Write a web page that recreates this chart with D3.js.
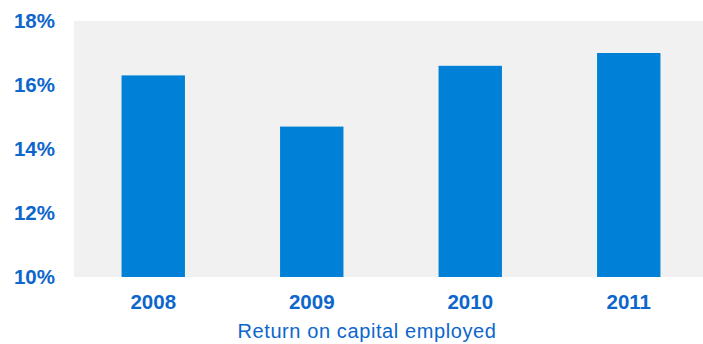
<!DOCTYPE html>
<html>
<head>
<meta charset="utf-8">
<script src="https://cdn.jsdelivr.net/npm/d3@7"></script>
<style>
  body { margin: 0; background: #fff; }
  text { font-family: "Liberation Sans", Arial, sans-serif; }
</style>
</head>
<body>
<div class="chart"></div>
<script>
const width = 703;
const height = 344;
const margin = { top: 21, right: -5, bottom: 67, left: 74 };

const years = ["2008", "2009", "2010", "2011"];
const roce = [16.3, 14.7, 16.6, 17.0];
const yTicks = [10, 12, 14, 16, 18];
const caption = "Return on capital employed";

const textColor = "#0d66cc";
const barColor = "#0080d6";

const svg = d3.select(".chart")
              .append("svg")
              .attr("width", width)
              .attr("height", height);

const escalaX = d3.scaleBand()
                  .domain(years)
                  .range([margin.left, width - margin.right])
                  .paddingInner(0.6)
                  .paddingOuter(0.3);

const escalaY = d3.scaleLinear()
                  .domain([10, 18])
                  .range([height - margin.bottom, margin.top]);

// gray plot background
svg.append("rect")
   .attr("x", margin.left)
   .attr("y", margin.top)
   .attr("width", width - margin.left)
   .attr("height", escalaY(10) - escalaY(18))
   .attr("fill", "#f1f1f1");

svg.append("g")
   .selectAll("rect")
   .data(years)
   .join("rect")
   .attr("x", (d) => escalaX(d))
   .attr("y", (d, i) => escalaY(roce[i]))
   .attr("width", escalaX.bandwidth())
   .attr("height", (d, i) => escalaY(10) - escalaY(roce[i]))
   .attr("fill", barColor);

const ejeY = svg.append("g")
                .attr("transform", `translate(55, 0)`)
                .call(d3.axisLeft(escalaY).tickValues(yTicks).tickFormat((d) => d + "%").tickSize(0).tickPadding(0));
ejeY.select(".domain").remove();
ejeY.selectAll("text")
    .attr("fill", textColor)
    .attr("font-size", 20.5)
    .attr("font-weight", "bold")
    .attr("font-family", "Liberation Sans, Arial, sans-serif");

const ejeX = svg.append("g")
                .attr("transform", `translate(0, ${height - margin.bottom})`)
                .call(d3.axisBottom(escalaX).tickSize(0).tickPadding(17));
ejeX.select(".domain").remove();
ejeX.selectAll("text")
    .attr("fill", textColor)
    .attr("font-size", 20.5)
    .attr("font-weight", "bold")
    .attr("font-family", "Liberation Sans, Arial, sans-serif");

svg.append("text")
   .attr("x", 367)
   .attr("y", 338)
   .attr("text-anchor", "middle")
   .attr("fill", textColor)
   .attr("font-size", 20)
   .attr("letter-spacing", 0.6)
   .text(caption);
</script>
</body>
</html>
